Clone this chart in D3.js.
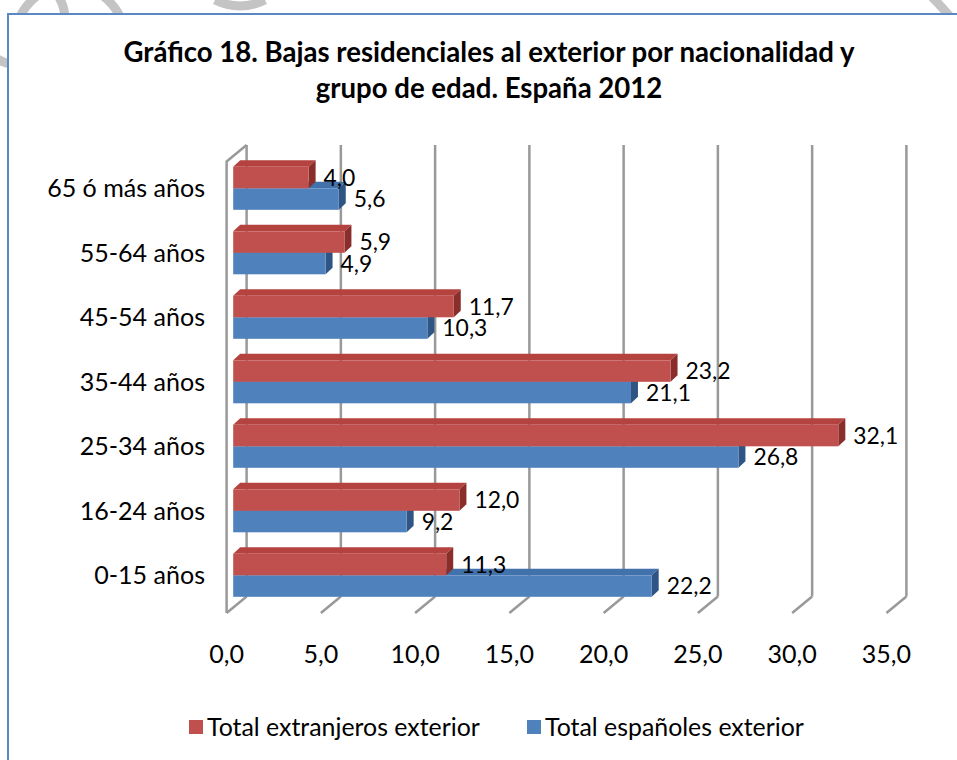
<!DOCTYPE html>
<html><head><meta charset="utf-8">
<script src="https://cdn.jsdelivr.net/npm/d3@7/dist/d3.min.js"></script>
<style>body{margin:0;background:#fff}svg{display:block}</style>
</head><body>
<svg id="chart" width="957" height="760"></svg>
<script>
// ---------- data ----------
const categories = ["65 ó más años","55-64 años","45-54 años","35-44 años","25-34 años","16-24 años","0-15 años"];
const extranjeros = [4.0, 5.9, 11.7, 23.2, 32.1, 12.0, 11.3];
const espanoles   = [5.6, 4.9, 10.3, 21.1, 26.8, 9.2, 22.2];
const seriesNames = ["Total extranjeros exterior", "Total españoles exterior"];
const xTicks = [0, 5, 10, 15, 20, 25, 30, 35];
const xTickLabels = ["0,0","5,0","10,0","15,0","20,0","25,0","30,0","35,0"];
const titleLines = ["Gráfico 18. Bajas residenciales al exterior por nacionalidad y", "grupo de edad. España 2012"];

// ---------- styles ----------
const FONT = "Lato, 'Open Sans', sans-serif";
const colors = {
  ext: {front:"#C0504D", top:"#B4423F", side:"#8A2E2B"},
  esp: {front:"#4F81BD", top:"#4272AC", side:"#2E5584"}
};
const gridColor = "#999999";

const svg = d3.select("#chart");

// helper: font size that gives a target width
function fitSize(text, target, weight) {
  const t = svg.append("text").attr("font-family", FONT).attr("font-size", 100)
    .attr("font-weight", weight || "normal").text(text);
  const w = t.node().getComputedTextLength();
  t.remove();
  return 100 * target / w;
}

// watermark (outside frame)
const clip = svg.append("defs").append("clipPath").attr("id","outside");
clip.append("rect").attr("x",0).attr("y",0).attr("width",957).attr("height",13);
clip.append("rect").attr("x",0).attr("y",0).attr("width",7).attr("height",760);
const wm = svg.append("g").attr("clip-path","url(#outside)").attr("fill","none")
  .attr("stroke","#c4c4c4").attr("stroke-width",9);
wm.append("circle").attr("cx",70).attr("cy",40).attr("r",55);
wm.append("circle").attr("cx",20).attr("cy",20).attr("r",45);
wm.append("path").attr("d","M215,0 Q240,12 265,0");
wm.append("path").attr("d","M930,-5 Q945,10 957,25");

// frame
svg.append("path").attr("d","M8,760 L8,14 L957,14").attr("fill","none")
  .attr("stroke","#5B87C2").attr("stroke-width",2);

// title
const titleSize = fitSize(titleLines[0], 731, "bold");
svg.append("g").selectAll("text").data(titleLines).join("text")
  .attr("x", 489).attr("y", (d,i) => 62 + i*36)
  .attr("text-anchor","middle").attr("font-family",FONT).attr("font-weight","bold")
  .attr("font-size", titleSize).attr("fill","#000").text(d => d);

// ---------- 3D geometry ----------
const floorFrontY = 613, floorBackY = 596.5, wallFrontTop = 161.5, wallBackTop = 145;
const depth = {dx: 20, dy: floorBackY - floorFrontY};
const x = d3.scaleLinear().domain([0, 35]).range([226.6, 886.4]); // front plane
const xb = v => x(v) + depth.dx;                                     // back plane
const barF = 0.33;                                                   // bar front plane depth fraction
const barDepth = {dx: 7, dy: -6.5};
const xBar = v => x(v) + barF * depth.dx;
const y = d3.scaleBand().domain(categories)
  .range([wallFrontTop + barF*depth.dy, floorFrontY + barF*depth.dy])
  .paddingInner(1/3).paddingOuter(1/6);
const ySub = d3.scaleBand().domain(["ext","esp"]).range([0, y.bandwidth()]);

const grid = svg.append("g").attr("fill","none").attr("stroke",gridColor).attr("stroke-width",2.5)
  .attr("stroke-linejoin","round");
// back wall gridlines
grid.selectAll("line.g").data(xTicks).join("line").attr("class","g")
  .attr("x1", d => xb(d)).attr("x2", d => xb(d)).attr("y1", wallBackTop).attr("y2", floorBackY);
// floor diagonals
grid.selectAll("line.f").data(xTicks).join("line").attr("class","f")
  .attr("x1", d => xb(d)).attr("y1", floorBackY).attr("x2", d => x(d)).attr("y2", floorFrontY);
// left wall
grid.append("path").attr("d",
  `M${xb(0)},${wallBackTop} L${x(0)},${wallFrontTop} L${x(0)},${floorFrontY}`);

// ---------- bars ----------
const bars = [];
categories.forEach((c, i) => {
  bars.push({cat:c, key:"esp", v: espanoles[i]});
  bars.push({cat:c, key:"ext", v: extranjeros[i]});
});
// draw bottom groups first
bars.sort((a,b) => y(b.cat) - y(a.cat));

const gBars = svg.append("g");
bars.forEach(b => {
  const x0 = xBar(0), x1 = xBar(b.v);
  const yt = y(b.cat) + ySub(b.key), h = ySub.bandwidth();
  const c = colors[b.key];
  const g = gBars.append("g");
  g.append("path").attr("fill", c.top)
    .attr("d", `M${x0},${yt} L${x1},${yt} L${x1+barDepth.dx},${yt+barDepth.dy} L${x0+barDepth.dx},${yt+barDepth.dy}Z`);
  g.append("path").attr("fill", c.side)
    .attr("d", `M${x1},${yt} L${x1+barDepth.dx},${yt+barDepth.dy} L${x1+barDepth.dx},${yt+h+barDepth.dy} L${x1},${yt+h}Z`);
  g.append("rect").attr("x", x0).attr("y", yt).attr("width", x1 - x0).attr("height", h).attr("fill", c.front);
});

// value labels
const labSize = fitSize("32,1", 45);
svg.append("g").selectAll("text").data(bars).join("text")
  .attr("x", d => xBar(d.v) + 15)
  .attr("y", d => y(d.cat) + ySub(d.key) + ySub.bandwidth()/2)
  .attr("dy","0.36em")
  .attr("font-family",FONT).attr("font-size",labSize).attr("fill","#000")
  .text(d => d.v.toFixed(1).replace(".", ","));

// category labels
const catSize = fitSize(categories[0], 158);
svg.append("g").selectAll("text").data(categories).join("text")
  .attr("x", 205).attr("y", d => y(d) + y.bandwidth()/2).attr("dy","0.36em")
  .attr("text-anchor","end").attr("font-family",FONT).attr("font-size",catSize).attr("fill","#000")
  .text(d => d);

// x tick labels
svg.append("g").selectAll("text").data(xTicks).join("text")
  .attr("x", d => x(d)).attr("y", 663).attr("text-anchor","middle")
  .attr("font-family",FONT).attr("font-size",catSize).attr("fill","#000")
  .text((d,i) => xTickLabels[i]);

// legend
const legSize = fitSize(seriesNames[1], 259);
const legend = svg.append("g");
const legendX = [189, 527];
const legKeys = ["ext","esp"];
seriesNames.forEach((s, i) => {
  legend.append("rect").attr("x", legendX[i]).attr("y", 720).attr("width", 14).attr("height", 14)
    .attr("fill", colors[legKeys[i]].front);
  legend.append("text").attr("x", legendX[i] + 18).attr("y", 727).attr("dy","0.36em")
    .attr("font-family",FONT).attr("font-size",legSize).attr("fill","#000").text(s);
});
</script>
</body></html>
